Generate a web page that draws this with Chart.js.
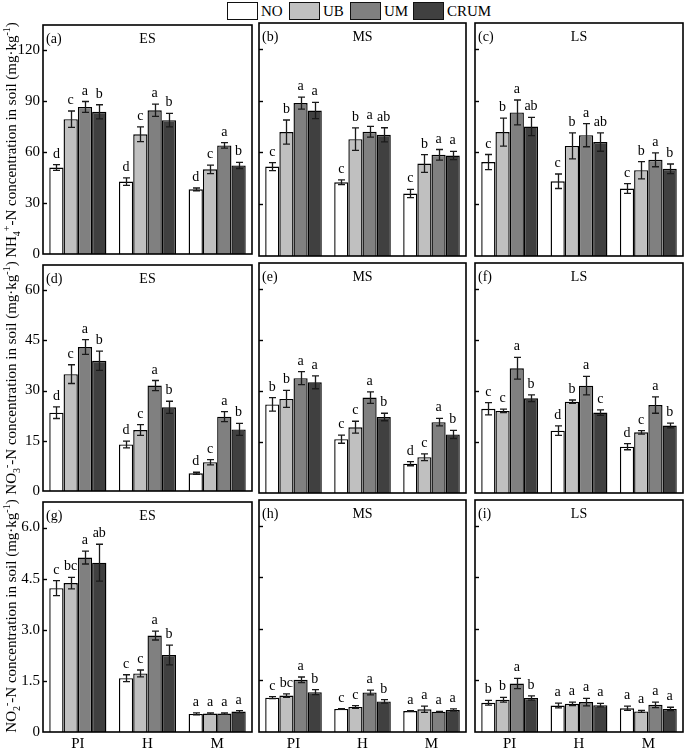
<!DOCTYPE html>
<html><head><meta charset="utf-8">
<script src="https://cdn.jsdelivr.net/npm/chart.js@4"></script>
<style>
body{margin:0;background:#fff;width:685px;height:750px;position:relative;overflow:hidden;font-family:"Liberation Serif","Times New Roman",serif;color:#000;}
canvas{position:absolute;}
.ylab{position:absolute;width:260px;height:20px;line-height:20px;text-align:center;font-size:15px;transform:rotate(-90deg);white-space:nowrap;z-index:5;}
.ylab sub,.ylab sup{font-size:10px;line-height:0;}
.lb{position:absolute;top:2px;width:31px;height:18px;border:1px solid #111;box-sizing:border-box;}
.lt{position:absolute;top:2px;height:19px;line-height:19px;font-size:15px;}
</style></head>
<body>
<script>
// ---------- data ----------
const categories = ['PI','H','M'];
const seriesNames = ['NO','UB','UM','CRUM'];
const seriesColors = ['#ffffff','#c0c0c0','#808080','#404040'];
const stages = ['ES','MS','LS'];
const panelTags = ['(a)','(b)','(c)','(d)','(e)','(f)','(g)','(h)','(i)'];

const nh4Ticks = [0,30,60,90,120];
const nh4TickLabels = ['0','30','60','90','120'];
const no3Ticks = [0,15,30,45,60];
const no3TickLabels = ['0','15','30','45','60'];
const no2Ticks = [0,1.5,3.0,4.5,6.0];
const no2TickLabels = ['0','1.5','3.0','4.5','6.0'];
const rowMax = [135, 67.5, 6.75];

// means: rows = NO, UB, UM, CRUM ; columns = PI, H, M
const meanA = [[51,42.7,38.1],[79.5,70.6,49.9],[86.7,84.7,64],[83.8,78.9,52.2]];
const errA  = [[1.7,2.2,0.8],[4.8,4.4,2.5],[3.2,3.6,1.6],[4.2,4,1.8]];
const letA  = [['d','d','d'],['c','c','c'],['a','a','a'],['b','b','b']];

const meanB = [[51.8,42.7,36.2],[71.8,67.7,53.6],[88.6,72,58.6],[84.3,70.2,58.2]];
const errB  = [[2.3,1.4,2.4],[7,6.5,5.1],[3.5,3.1,3.1],[4.7,4.1,2.4]];
const letB  = [['c','c','c'],['b','b','b'],['a','a','a'],['a','ab','a']];

const meanC = [[54.4,43.3,39.1],[71.8,63.8,49.7],[83.2,70,55.7],[75,66,50.5]];
const errC  = [[4.4,4.2,2.8],[8.1,7.5,5],[7.2,6.7,4],[5.3,5.3,2.8]];
const letC  = [['c','c','c'],['b','b','b'],['a','a','a'],['ab','ab','b']];

const meanD = [[23.4,13.9,5.3],[34.9,18.2,8.6],[43,31.5,22.2],[38.9,25,18.4]];
const errD  = [[1.75,1,0.3],[2.8,1.6,0.8],[2.2,1.5,1.5],[2.9,1.8,1.8]];
const letD  = [['d','d','d'],['c','c','c'],['a','a','a'],['b','b','b']];

const meanE = [[26,15.8,8.6],[27.6,19.3,10.5],[33.7,28,20.8],[32.5,22.3,17.2]];
const errE  = [[2,1.2,0.6],[2.5,1.75,1],[1.9,1.7,1.1],[1.9,1.1,1.2]];
const letE  = [['b','c','d'],['b','c','c'],['a','a','a'],['a','b','b']];

const meanF = [[24.7,18.3,13.6],[24.1,26.8,17.8],[36.6,31.5,25.8],[27.8,23.6,19.8]];
const errF  = [[1.8,1.4,0.9],[0.5,0.5,0.5],[3.2,2.7,2.4],[1,0.8,0.7]];
const letF  = [['c','d','d'],['c','b','c'],['a','a','a'],['b','c','b']];

const meanG = [[4.22,1.58,0.53],[4.37,1.72,0.54],[5.12,2.83,0.54],[4.97,2.26,0.6]];
const errG  = [[0.22,0.1,0.03],[0.17,0.1,0.02],[0.19,0.13,0.02],[0.54,0.29,0.03]];
const letG  = [['c','c','a'],['bc','c','a'],['a','a','a'],['ab','b','a']];

const meanH = [[1.0,0.67,0.61],[1.06,0.73,0.66],[1.52,1.15,0.59],[1.16,0.89,0.64]];
const errH  = [[0.03,0.01,0.01],[0.05,0.04,0.09],[0.08,0.07,0.01],[0.07,0.05,0.03]];
const letH  = [['c','c','a'],['bc','c','a'],['a','a','a'],['b','b','a']];

const meanI = [[0.85,0.77,0.69],[0.94,0.82,0.6],[1.41,0.87,0.79],[0.99,0.78,0.67]];
const errI  = [[0.07,0.07,0.06],[0.07,0.05,0.03],[0.15,0.11,0.08],[0.06,0.05,0.05]];
const letI  = [['b','a','a'],['b','a','a'],['a','a','a'],['b','a','a']];

// ---------- layout ----------
const colLeft = [43,259,475], colRight = [252,466,683];
const rowTop = [23,263,500], rowBottom = [256,493,732];
const FONT = '"Liberation Serif","Times New Roman",serif';

const means = [meanA,meanB,meanC,meanD,meanE,meanF,meanG,meanH,meanI];
const errs  = [errA,errB,errC,errD,errE,errF,errG,errH,errI];
const lets  = [letA,letB,letC,letD,letE,letF,letG,letH,letI];
const rowTicks = [nh4Ticks,no3Ticks,no2Ticks];
const rowTickLabels = [nh4TickLabels,no3TickLabels,no2TickLabels];

// legend
const legendX = [227,289,350,413];
seriesNames.forEach((n,i)=>{
  const b=document.createElement('div'); b.className='lb'; b.style.left=legendX[i]+'px'; b.style.background=seriesColors[i]; document.body.appendChild(b);
  const t=document.createElement('div'); t.className='lt'; t.style.left=(legendX[i]+34)+'px'; t.textContent=n; document.body.appendChild(t);
});

// y titles
const yTitles = ['NH<sub>4</sub><sup>+</sup>-N concentration in soil (mg·kg<sup>-1</sup>)',
                 'NO<sub>3</sub><sup>-</sup>-N concentration in soil (mg·kg<sup>-1</sup>)',
                 'NO<sub>2</sub><sup>-</sup>-N concentration in soil (mg·kg<sup>-1</sup>)'];

function deco(p){
  return {id:'deco'+p.idx, afterDatasetsDraw(chart){
    const ctx=chart.ctx, a=chart.chartArea, ys=chart.scales.y;
    ctx.save();
    ctx.strokeStyle='#1a1a1a'; ctx.lineWidth=1.3;
    chart.data.datasets.forEach((ds,i)=>{
      const meta=chart.getDatasetMeta(i);
      meta.data.forEach((el,j)=>{
        const v=ds.data[j], e=p.err[i][j];
        const x=Math.round(el.x)+0.5;
        const yt=ys.getPixelForValue(v+e), yb=ys.getPixelForValue(v-e);
        ctx.beginPath();
        ctx.moveTo(x,yt); ctx.lineTo(x,yb);
        ctx.moveTo(x-3.5,yt); ctx.lineTo(x+3.5,yt);
        ctx.moveTo(x-3.5,yb); ctx.lineTo(x+3.5,yb);
        ctx.stroke();
        ctx.fillStyle='#000'; ctx.font='14px '+FONT; ctx.textAlign='center'; ctx.textBaseline='alphabetic';
        ctx.fillText(p.letters[i][j], el.x, yt-7);
      });
    });
    ctx.strokeStyle='#000'; ctx.lineWidth=1.6;
    ctx.strokeRect(a.left,a.top,a.right-a.left,a.bottom-a.top);
    ctx.lineWidth=1.4;
    p.ticks.forEach(t=>{ if(t===0) return; const y=Math.round(ys.getPixelForValue(t))+0.5; ctx.beginPath(); ctx.moveTo(a.left,y); ctx.lineTo(a.left+4,y); ctx.stroke();});
    ctx.fillStyle='#000'; ctx.font='14px '+FONT; ctx.textBaseline='alphabetic';
    ctx.textAlign='left'; ctx.fillText(p.tag,a.left+3,a.top+18);
    ctx.textAlign='center'; ctx.fillText(p.stage,(a.left+a.right)/2,a.top+18);
    ctx.restore();
  }};
}

for(let r=0;r<3;r++){
  for(let c=0;c<3;c++){
    const idx=r*3+c;
    const left = c===0 ? 0 : colLeft[c]-2;
    const right = colRight[c]+2;
    const top = rowTop[r]-10;
    const bottom = r===2 ? 750 : rowBottom[r]+10;
    const cv=document.createElement('canvas');
    cv.width=right-left; cv.height=bottom-top;
    cv.style.left=left+'px'; cv.style.top=top+'px';
    cv.style.width=(right-left)+'px'; cv.style.height=(bottom-top)+'px';
    document.body.appendChild(cv);
    const ticks=rowTicks[r], tickLabels=rowTickLabels[r];
    const yWidth = c===0 ? 43 : 0;
    new Chart(cv,{
      type:'bar',
      data:{labels:categories, datasets:seriesNames.map((n,i)=>({label:n,data:means[idx][i],backgroundColor:seriesColors[i],borderColor:'#000',borderWidth:1.4,categoryPercentage:0.82,barPercentage:1.0}))},
      options:{
        responsive:false, devicePixelRatio:1, animation:false,
        layout:{padding:{left:c===0?0:2,right:2,top:10,bottom:r===2?0:10}},
        plugins:{legend:{display:false},tooltip:{enabled:false},title:{display:false}},
        scales:{
          x:{display:r===2, grid:{display:false,drawTicks:false}, border:{display:false},
             ticks:{color:'#000',font:{family:FONT,size:15},padding:3,maxRotation:0},
             afterFit:(s)=>{s.height= r===2 ? 18 : 0;}},
          y:{display:c===0, min:0, max:rowMax[r], grid:{display:false,drawTicks:false}, border:{display:false},
             afterBuildTicks:(s)=>{s.ticks=ticks.map(v=>({value:v}));},
             ticks:{color:'#000',font:{family:FONT,size:15},padding:3,callback:(v,i)=>tickLabels[i]},
             afterFit:(s)=>{s.width=yWidth;}}
        }
      },
      plugins:[deco({idx,err:errs[idx],letters:lets[idx],ticks,tag:panelTags[idx],stage:stages[c]})]
    });
  }
  const d=document.createElement('div'); d.className='ylab';
  const cy=(rowTop[r]+rowBottom[r])/2;
  d.style.left=(11-130)+'px'; d.style.top=(cy-10)+'px';
  d.innerHTML=yTitles[r];
  document.body.appendChild(d);
}
</script>
</body></html>
